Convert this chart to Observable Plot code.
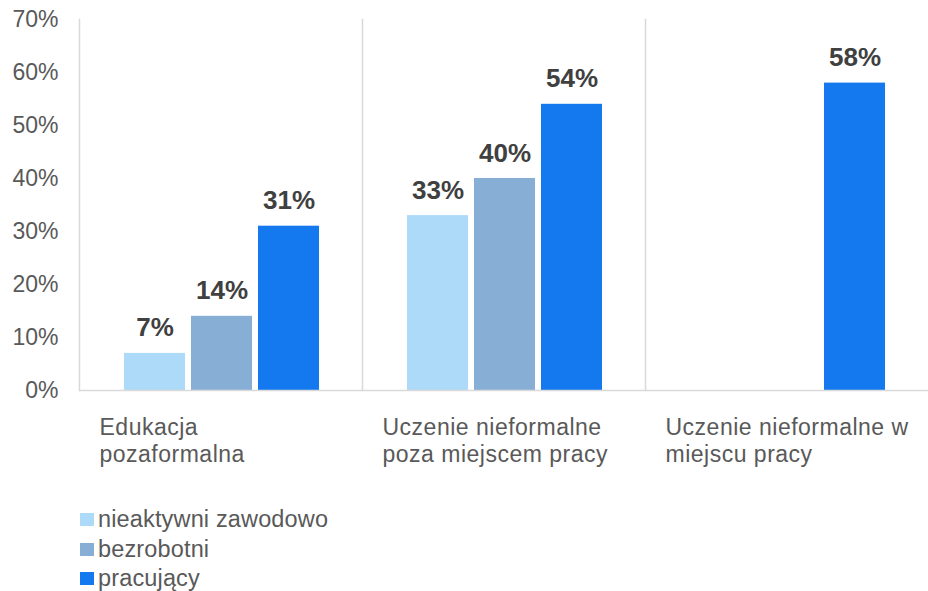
<!DOCTYPE html>
<html>
<head>
<meta charset="utf-8">
<script src="https://cdn.jsdelivr.net/npm/d3@7"></script>
<script src="https://cdn.jsdelivr.net/npm/@observablehq/plot@0.6"></script>
<style>
  html, body { margin: 0; padding: 0; background: #fff; }
  body { font-family: "Liberation Sans", Arial, sans-serif; width: 928px; height: 591px; overflow: hidden; }
  #chart svg { display: block; }
  #chart g[aria-label="fx-axis tick label"] { letter-spacing: 0.5px; }
  #legend { margin-left: 80px; margin-top: 5px; font-size: 23.5px; color: #595959; letter-spacing: 0.15px; }
  .row { display: flex; align-items: center; height: 29.5px; }
  .sw { width: 14px; height: 13px; margin-right: 4px; flex: none; }
</style>
</head>
<body>
<div id="chart"></div>
<div id="legend"></div>
<script>
const categories = ["Edukacja pozaformalna", "Uczenie nieformalne poza miejscem pracy", "Uczenie nieformalne w miejscu pracy"];
const categoryLabels = ["Edukacja\npozaformalna", "Uczenie nieformalne\npoza miejscem pracy", "Uczenie nieformalne w\nmiejscu pracy"];
const series = ["nieaktywni zawodowo", "bezrobotni", "pracujący"];
const nieaktywni = [7, 33, null];
const bezrobotni = [14, 40, null];
const pracujacy = [31, 54, 58];
const yTicks = [0, 10, 20, 30, 40, 50, 60, 70];
const colors = ["#AEDAF9", "#87AFD5", "#1479EE"];

const valuesBySeries = [nieaktywni, bezrobotni, pracujacy];
const data = [];
categories.forEach((c, i) => {
  series.forEach((s, j) => {
    const v = valuesBySeries[j][i];
    if (v != null) data.push({category: c, series: s, value: v});
  });
});

const chart = Plot.plot({
  width: 928,
  height: 500,
  marginLeft: 78,
  marginRight: 0,
  marginTop: 19,
  marginBottom: 110,
  style: {fontFamily: "Liberation Sans, Arial, sans-serif", background: "#fff"},
  fx: {domain: categories, padding: 0, axis: null, label: null},
  x: {domain: series, paddingInner: 0.09, paddingOuter: 0.65, align: 0.51, axis: null, label: null},
  y: {domain: [0, 70], axis: null, label: null},
  color: {domain: series, range: colors},
  marks: [
    Plot.frame({anchor: "left", stroke: "#d9d9d9", strokeWidth: 1.5}),
    Plot.axisY({ticks: yTicks, tickFormat: d => d + "%", tickSize: 0, tickPadding: 21, fontSize: 23, fill: "#595959", anchor: "left", label: null}),
    Plot.axisFx({anchor: "bottom", tickSize: 0, tickPadding: 25, textAnchor: "start", dx: -121.5, label: null,
      tickFormat: d => categoryLabels[categories.indexOf(d)], fontSize: 23, fill: "#595959", lineHeight: 1.17}),
    Plot.barY(data, {fx: "category", x: "series", y: "value", fill: "series"}),
    Plot.ruleY([0], {stroke: "#d9d9d9", strokeWidth: 1.5}),
    Plot.text(data, {fx: "category", x: "series", y: "value", text: d => d.value + "%", dy: -17,
      lineAnchor: "bottom", fontSize: 26, fontWeight: "bold", fill: "#404040"})
  ]
});
document.getElementById("chart").appendChild(chart);

const legend = document.getElementById("legend");
series.forEach((s, j) => {
  const row = document.createElement("div");
  row.className = "row";
  const sw = document.createElement("span");
  sw.className = "sw";
  sw.style.background = colors[j];
  const t = document.createElement("span");
  t.textContent = s;
  row.appendChild(sw);
  row.appendChild(t);
  legend.appendChild(row);
});
</script>
</body>
</html>
